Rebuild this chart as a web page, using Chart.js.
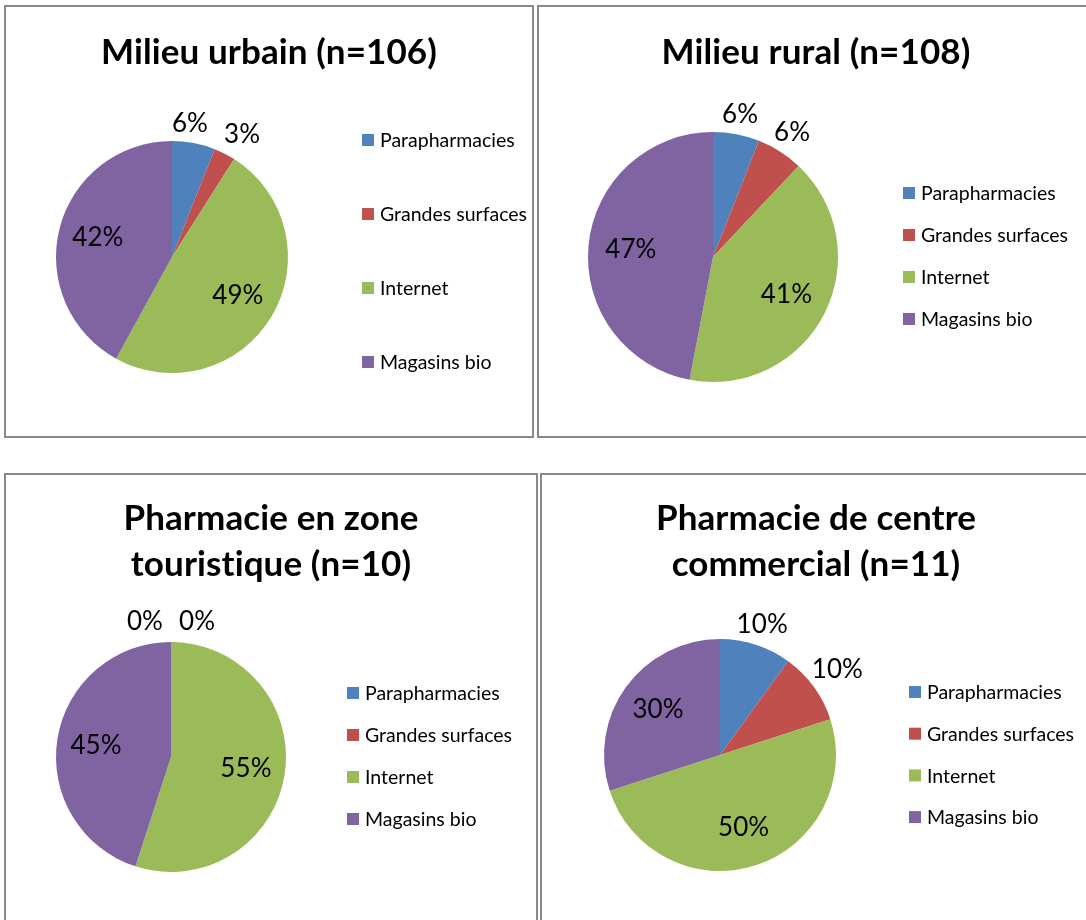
<!DOCTYPE html>
<html>
<head>
<meta charset="utf-8">
<script src="https://cdn.jsdelivr.net/npm/chart.js@4.4.1/dist/chart.umd.min.js"></script>
<style>
  html, body { margin: 0; padding: 0; background: #fff; }
  body { width: 1086px; height: 920px; position: relative; overflow: hidden; }
  .panel { position: absolute; box-sizing: border-box; border: 2px solid #898989; }
  .panel canvas { position: absolute; left: -2px; top: -2px; }
</style>
</head>
<body>
<div class="panel" id="p1" style="left:4px;top:5px;width:530px;height:433px"><canvas id="c1"></canvas></div>
<div class="panel" id="p2" style="left:537px;top:5px;width:558px;height:433px"><canvas id="c2"></canvas></div>
<div class="panel" id="p3" style="left:4px;top:473px;width:534px;height:470px"><canvas id="c3"></canvas></div>
<div class="panel" id="p4" style="left:540px;top:473px;width:552px;height:470px"><canvas id="c4"></canvas></div>
<script>
const categories = ['Parapharmacies', 'Grandes surfaces', 'Internet', 'Magasins bio'];
const urbain = [6, 3, 49, 42];
const rural = [6, 6, 41, 47];
const touristique = [0, 0, 55, 45];
const commercial = [10, 10, 50, 30];
const sliceColors = ['#4F81BD', '#C0504D', '#9BBB59', '#8064A2'];

const FONT = 'Lato, Carlito, Calibri, sans-serif';

// page positions of each pie, its title and legend
const specs = [
  { panel: 'p1', canvas: 'c1', title: ['Milieu urbain (n=106)'], values: urbain,
    titleX: 269, titleY: 53, cx: 172, cy: 257, r: 116, legendX: 362, legendY: 140, legendStep: 74 },
  { panel: 'p2', canvas: 'c2', title: ['Milieu rural (n=108)'], values: rural,
    titleX: 816, titleY: 53, cx: 713, cy: 257, r: 125, legendX: 903, legendY: 193, legendStep: 42 },
  { panel: 'p3', canvas: 'c3', title: ['Pharmacie en zone', 'touristique (n=10)'], values: touristique,
    titleX: 271, titleY: 519, cx: 171, cy: 757, r: 115, legendX: 347, legendY: 693, legendStep: 42 },
  { panel: 'p4', canvas: 'c4', title: ['Pharmacie de centre', 'commercial (n=11)'], values: commercial,
    titleX: 816, titleY: 519, cx: 720, cy: 755, r: 116, legendX: 909, legendY: 692, legendStep: 41.7 },
];

function makeDecor(s, ox, oy) {
  return {
    id: 'decor',
    afterDraw(chart) {
      const ctx = chart.ctx;
      ctx.save();
      ctx.fillStyle = '#000';
      ctx.textAlign = 'center';
      ctx.textBaseline = 'middle';
      // no "ti" ligatures
      ctx.textRendering = 'optimizeSpeed';
      ctx.letterSpacing = '0.1px';

      // title, one or two lines
      ctx.font = 'bold 35px ' + FONT;
      s.title.forEach((line, i) => ctx.fillText(line, s.titleX - ox, s.titleY - oy + i * 46));

      // percentage labels: inside for big slices, outside end for small ones
      const meta = chart.getDatasetMeta(0);
      const values = chart.data.datasets[0].data;
      const total = values.reduce((a, b) => a + b, 0);
      ctx.font = '26px ' + FONT;
      const outside = [];
      meta.data.forEach((arc, i) => {
        const p = arc.getProps(['x', 'y', 'startAngle', 'endAngle', 'outerRadius'], true);
        const mid = (p.startAngle + p.endAngle) / 2;
        const text = values[i] + '%';
        const w = ctx.measureText(text).width;
        if (values[i] / total > 0.15) {
          const d = p.outerRadius * 0.66;
          ctx.fillText(text, p.x + Math.cos(mid) * d, p.y + Math.sin(mid) * d);
          return;
        }
        const hw = w / 2 + 3, hh = 13;
        const ext = Math.min(hw / Math.abs(Math.cos(mid)), hh / Math.abs(Math.sin(mid)));
        const d = p.outerRadius + 7 + ext;
        const lbl = { text, w, x: p.x + Math.cos(mid) * d, y: p.y + Math.sin(mid) * d };
        const prev = outside[outside.length - 1];
        if (prev && Math.abs(prev.y - lbl.y) < hh * 2) {
          const need = (prev.w + w) / 2 + 16 - (lbl.x - prev.x);
          if (need > 0) { prev.x -= need / 2; lbl.x += need / 2; }
        }
        outside.push(lbl);
      });
      outside.forEach(l => ctx.fillText(l.text, l.x, l.y));

      // legend on the right
      ctx.font = '19.5px ' + FONT;
      ctx.letterSpacing = '0px';
      ctx.textAlign = 'left';
      chart.data.labels.forEach((name, i) => {
        const y = s.legendY - oy + i * s.legendStep;
        ctx.fillStyle = sliceColors[i];
        ctx.fillRect(s.legendX - ox, y - 6, 12, 12);
        ctx.fillStyle = '#000';
        ctx.fillText(name, s.legendX - ox + 18, y + 1);
      });
      ctx.restore();
    }
  };
}

specs.forEach(s => {
  const panel = document.getElementById(s.panel);
  const canvas = document.getElementById(s.canvas);
  const W = panel.offsetWidth, H = panel.offsetHeight;
  const ox = panel.offsetLeft, oy = panel.offsetTop;
  canvas.width = W;
  canvas.height = H;
  const lx = s.cx - ox, ly = s.cy - oy;

  new Chart(canvas, {
    type: 'pie',
    data: {
      labels: categories,
      datasets: [{
        data: s.values,
        backgroundColor: sliceColors,
        borderWidth: 0,
        hoverOffset: 0,
      }],
    },
    options: {
      responsive: false,
      animation: false,
      layout: {
        padding: { left: lx - s.r, top: ly - s.r, right: W - lx - s.r, bottom: H - ly - s.r },
      },
      plugins: {
        legend: { display: false },
        tooltip: { enabled: false },
      },
    },
    plugins: [makeDecor(s, ox, oy)],
  });
});
</script>
</body>
</html>
